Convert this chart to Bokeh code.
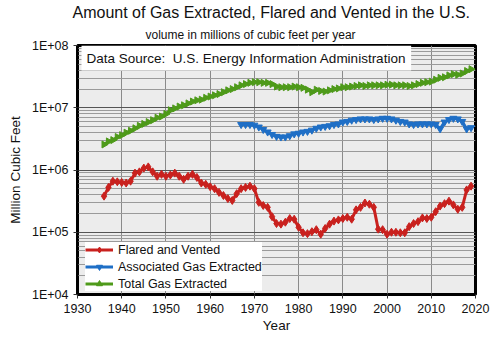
from bokeh.plotting import figure
from bokeh.models import (Range1d, FixedTicker, CustomJSTickFormatter, Legend, LegendItem,
                          Label, Title)
from bokeh.embed import file_html
from bokeh.resources import INLINE
import numpy as np

years_fv = list(range(1936, 2020))
flared_vented = [380000, 525000, 661000, 646000, 631000, 617000, 661000, 891000, 933000, 1072000,
                 1122000, 933000, 794000, 851000, 794000, 832000, 891000, 794000, 708000, 794000,
                 851000, 759000, 617000, 589000, 537000, 501000, 437000, 389000, 347000, 324000,
                 417000, 501000, 525000, 550000, 501000, 302000, 269000, 251000, 178000, 138000,
                 135000, 145000, 166000, 162000, 120000, 98000, 95000, 102000, 110000, 93000,
                 115000, 135000, 151000, 158000, 166000, 174000, 162000, 229000, 251000, 295000,
                 282000, 251000, 112000, 110000, 93000, 100000, 100000, 98000, 98000, 123000,
                 138000, 148000, 170000, 166000, 174000, 214000, 263000, 288000, 316000, 275000,
                 234000, 251000, 479000, 550000]

years_assoc = list(range(1967, 2020))
associated = [5370000, 5370000, 5370000, 5248000, 4898000, 4467000, 4074000, 3715000, 3467000, 3388000,
              3388000, 3548000, 3802000, 3890000, 4074000, 4169000, 4365000, 4677000, 4898000, 5012000,
              5129000, 5370000, 5495000, 5888000, 6026000, 6310000, 6457000, 6607000, 6607000, 6607000,
              6457000, 6607000, 6761000, 6761000, 6607000, 6310000, 6026000, 5888000, 5495000, 5370000,
              5495000, 5495000, 5495000, 5495000, 5370000, 4571000, 5888000, 6457000, 6761000, 6607000,
              6026000, 4571000, 4786000]

years_total = list(range(1936, 2020))
total = [2570000, 2880000, 3020000, 3390000, 3630000, 3980000, 4270000, 4680000, 5130000, 5500000,
         5890000, 6310000, 6920000, 7240000, 7940000, 9120000, 9770000, 10470000, 10960000, 11750000,
         12590000, 13180000, 13490000, 14450000, 15140000, 15850000, 16600000, 17780000, 19050000, 19950000,
         21380000, 22910000, 23990000, 25120000, 25700000, 25700000, 25120000, 25120000, 23990000, 21880000,
         21380000, 21380000, 21380000, 21880000, 21380000, 20890000, 19500000, 17780000, 19500000, 18620000,
         18200000, 19050000, 19950000, 20420000, 21380000, 21380000, 21880000, 22390000, 22910000, 22390000,
         22910000, 22910000, 22910000, 22910000, 23440000, 23440000, 22910000, 22910000, 22910000, 22390000,
         22910000, 23990000, 25120000, 25700000, 26300000, 28180000, 30200000, 30900000, 33110000, 34670000,
         33880000, 35480000, 38900000, 41690000]

x_ticks = [1930, 1940, 1950, 1960, 1970, 1980, 1990, 2000, 2010, 2020]
y_ticks = [1e4, 1e5, 1e6, 1e7, 1e8]
y_minor = [m * 10 ** e for e in range(4, 8) for m in range(2, 10)]

FONT = "Liberation Sans"
RED = "#c9211e"
BLUE = "#1f6fc6"
GREEN = "#4e9a1a"

p = figure(width=500, height=338, frame_width=398, frame_height=249,
           y_axis_type="log", output_backend="svg", toolbar_location=None,
           x_range=Range1d(1930, 2020), y_range=Range1d(1e4, 1e8),
           min_border_left=77, min_border_right=25, min_border_bottom=43, min_border_top=0,
           background_fill_color="#ececec", border_fill_color="white")

sub = Title(text="volume in millions of cubic feet per year", align="left", offset=68,
            text_font=FONT, text_font_size="12px", text_font_style="normal", text_color="#111111",
            standoff=8)
p.add_layout(sub, "above")
main = Title(text="Amount of Gas Extracted, Flared and Vented in the U.S.", align="left", offset=-5,
             text_font=FONT, text_font_size="16px", text_font_style="normal", text_color="#111111",
             standoff=2)
p.add_layout(main, "above")

p.outline_line_color = "black"
p.outline_line_width = 3

p.xaxis.ticker = FixedTicker(ticks=x_ticks)
p.yaxis.ticker = FixedTicker(ticks=y_ticks, minor_ticks=y_minor)
p.yaxis.formatter = CustomJSTickFormatter(code="""
const e = Math.round(Math.log10(tick));
return '1E+' + (e < 10 ? '0' : '') + e;
""")
for ax in (p.xaxis, p.yaxis):
    ax.major_label_text_font = FONT
    ax.major_label_text_font_size = "12.5px"
    ax.major_label_text_color = "#111111"
    ax.axis_label_text_font = FONT
    ax.axis_label_text_font_size = "13.5px"
    ax.axis_label_text_font_style = "normal"
    ax.axis_label_text_color = "#111111"
    ax.axis_line_color = "black"
    ax.axis_line_width = 2
    ax.major_tick_line_color = "#333333"
    ax.major_tick_out = 4
    ax.major_tick_in = 0
    ax.minor_tick_line_color = None
p.xaxis.axis_label = "Year"
p.yaxis.axis_label = "Million Cubic Feet"
p.xaxis.axis_label_standoff = 2
p.yaxis.axis_label_standoff = 6

p.xgrid.grid_line_color = "#8a8a8a"
p.xgrid.grid_line_width = 1
p.ygrid.grid_line_color = "#555555"
p.ygrid.grid_line_width = 1
p.ygrid.minor_grid_line_color = "#9a9a9a"
p.ygrid.minor_grid_line_width = 1

r1l = p.line(years_fv, flared_vented, line_color=RED, line_width=3)
r1m = p.scatter(years_fv, flared_vented, marker="diamond", size=8, color=RED)
r2l = p.line(years_assoc, associated, line_color=BLUE, line_width=3)
r2m = p.scatter(years_assoc, associated, marker="inverted_triangle", size=7, color=BLUE)
r3l = p.line(years_total, total, line_color=GREEN, line_width=3)
r3m = p.scatter(years_total, total, marker="triangle", size=7, color=GREEN, angle=-np.pi / 2)

src = Label(x=4, y=224, x_units="screen", y_units="screen",
            text="Data Source:\u00a0\u00a0U.S. Energy Information Administration",
            text_font=FONT, text_font_size="13.5px", text_color="#111111",
            background_fill_color="white", background_fill_alpha=1.0, padding=5)
p.add_layout(src)

legend = Legend(items=[
    LegendItem(label="Flared and Vented", renderers=[r1l, r1m]),
    LegendItem(label="Associated Gas Extracted", renderers=[r2l, r2m]),
    LegendItem(label="Total Gas Extracted", renderers=[r3l, r3m]),
], location=(8, 3))
legend.background_fill_color = "white"
legend.background_fill_alpha = 1.0
legend.border_line_color = None
legend.label_text_font = FONT
legend.label_text_font_size = "12.5px"
legend.label_text_color = "#111111"
legend.glyph_width = 28
legend.glyph_height = 15
legend.label_height = 15
legend.spacing = 2
legend.padding = 12
legend.margin = 0
legend.label_standoff = 5
p.add_layout(legend)

open("out.html", "w").write(file_html(p, INLINE))
